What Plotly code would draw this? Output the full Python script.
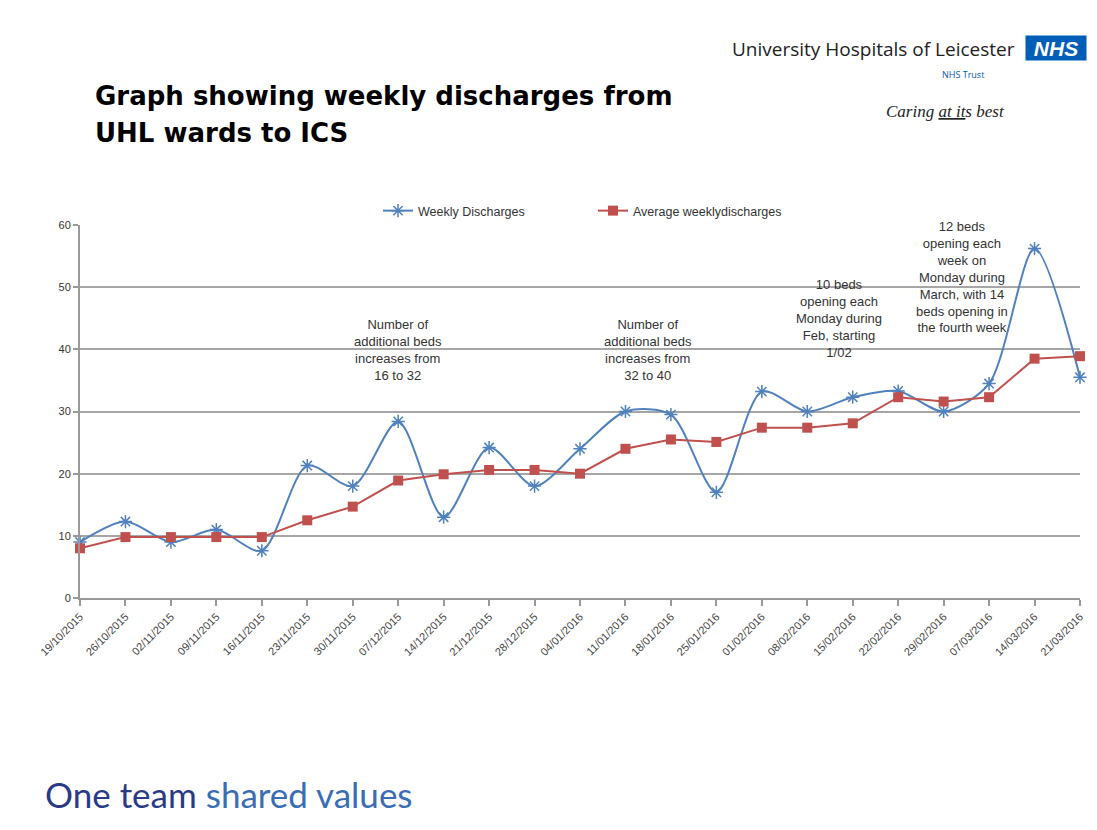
import plotly.graph_objects as go

dates = ["19/10/2015", "26/10/2015", "02/11/2015", "09/11/2015", "16/11/2015",
         "23/11/2015", "30/11/2015", "07/12/2015", "14/12/2015", "21/12/2015",
         "28/12/2015", "04/01/2016", "11/01/2016", "18/01/2016", "25/01/2016",
         "01/02/2016", "08/02/2016", "15/02/2016", "22/02/2016", "29/02/2016",
         "07/03/2016", "14/03/2016", "21/03/2016"]
weekly = [9, 12.3, 9, 11, 7.6, 21.3, 18, 28.4, 13, 24.2, 18, 24, 30, 29.5, 17,
          33.2, 30, 32.3, 33.3, 30, 34.5, 56.2, 35.5]
average = [8, 9.8, 9.8, 9.8, 9.8, 12.5, 14.7, 18.9, 19.9, 20.6, 20.6, 20, 24,
           25.5, 25.1, 27.4, 27.4, 28.1, 32.3, 31.6, 32.3, 38.5, 38.9]
y_ticks = [0, 10, 20, 30, 40, 50, 60]

notes = [
    (7, 45.5, "Number of<br>additional beds<br>increases from<br>16 to 32"),
    (12.5, 45.5, "Number of<br>additional beds<br>increases from<br>32 to 40"),
    (16.7, 52.0, "10 beds<br>opening each<br>Monday during<br>Feb, starting<br>1/02"),
    (19.4, 61.3, "12 beds<br>opening each<br>week on<br>Monday during<br>March, with 14<br>beds opening in<br>the fourth week"),
]

xi = list(range(len(dates)))
BLUE = "#4F81BD"
RED = "#C0504D"

# plot area in screenshot pixels
PL, PR, PT, PB = 80, 1080, 225, 598
OFF = 8  # browser body margin
Y0, Y1 = 0, 60


def px(x):
    return (x - PL) / (PR - PL)


def py(y):
    return (PB - y) / (PB - PT)


fig = go.Figure()
fig.add_trace(go.Scatter(
    x=xi, y=weekly, name="Weekly Discharges", mode="lines+markers",
    line=dict(color=BLUE, width=2, shape="spline", smoothing=0.8),
    marker=dict(symbol="asterisk-open", size=11, color=BLUE,
                line=dict(color=BLUE, width=1.5)),
    cliponaxis=False))
fig.add_trace(go.Scatter(
    x=xi, y=average, name="Average weeklydischarges", mode="lines+markers",
    line=dict(color=RED, width=2),
    marker=dict(symbol="square", size=10, color=RED),
    cliponaxis=False))

for xv, yv, txt in notes:
    # y given in data units; convert to paper so labels above the range still show
    fig.add_annotation(x=xv, y=(yv - Y0) / (Y1 - Y0), xref="x", yref="paper", text=txt,
                       showarrow=False, yanchor="top", xanchor="center",
                       font=dict(family="Liberation Sans, Arial", size=13, color="#333333"))

title_font = dict(family="DejaVu Sans, Verdana", size=26, color="#000000")
fig.add_annotation(x=px(93), y=py(96), xref="paper", yref="paper",
                   text="<b>Graph showing weekly discharges from</b>",
                   showarrow=False, xanchor="left", yanchor="middle", font=title_font)
fig.add_annotation(x=px(93), y=py(133), xref="paper", yref="paper",
                   text="<b>UHL wards to ICS</b>",
                   showarrow=False, xanchor="left", yanchor="middle", font=title_font)
fig.add_annotation(x=px(1017), y=py(49), xref="paper", yref="paper",
                   text="University Hospitals of Leicester",
                   showarrow=False, xanchor="right", yanchor="middle",
                   font=dict(family="Open Sans, Liberation Sans", size=19, color="#222222"))
fig.add_annotation(x=px(1056), y=py(48), xref="paper", yref="paper",
                   text="<b><i>NHS</i></b>", showarrow=False,
                   xanchor="center", yanchor="middle", bgcolor="#005EB8",
                   borderpad=1, width=58, height=22,
                   font=dict(family="Liberation Sans, Arial", size=21, color="#FFFFFF"))
fig.add_annotation(x=px(986), y=py(75), xref="paper", yref="paper",
                   text="NHS Trust", showarrow=False, xanchor="right", yanchor="middle",
                   font=dict(family="Open Sans, Liberation Sans", size=9, color="#005EB8"))
fig.add_annotation(x=px(945), y=py(111), xref="paper", yref="paper",
                   text="<i>Caring <u>at it</u>s best</i>", showarrow=False,
                   xanchor="center", yanchor="middle",
                   font=dict(family="Liberation Serif, serif", size=17, color="#222222"))
fig.add_annotation(x=px(43), y=py(794), xref="paper", yref="paper",
                   text="<span style='color:#2B3A87'>One team</span> <span style='color:#3A6DB5'>shared values</span>",
                   showarrow=False, xanchor="left", yanchor="middle",
                   font=dict(family="Lato, Open Sans", size=35))

fig.update_layout(
    width=1097, height=830,
    paper_bgcolor="white", plot_bgcolor="white",
    margin=dict(l=PL - OFF, r=1097 - (PR - OFF), t=PT - OFF, b=830 - (PB - OFF)),
    showlegend=True,
    legend=dict(orientation="h", x=px(378), xanchor="left", y=py(211), yanchor="middle",
                font=dict(family="Liberation Sans, Arial", size=12.5, color="#333333"),
                itemwidth=30, bgcolor="rgba(0,0,0,0)", entrywidth=170),
    font=dict(family="Liberation Sans, Arial"),
)
fig.update_xaxes(
    range=[0, 22], tickmode="array", tickvals=xi, ticktext=dates,
    tickangle=-45, ticks="outside", ticklen=6, tickcolor="#999999", tickwidth=2,
    showgrid=False, showline=True, linecolor="#999999", linewidth=2,
    tickfont=dict(size=11, color="#444444"), zeroline=False)
fig.update_yaxes(
    range=[Y0, Y1], tickvals=y_ticks, ticks="outside", ticklen=5,
    tickcolor="#999999", tickwidth=2,
    showgrid=True, gridcolor="#A6A6A6", gridwidth=2,
    showline=True, linecolor="#999999", linewidth=2, zeroline=False,
    tickfont=dict(size=11, color="#333333"))

fig.write_html("out.html")
